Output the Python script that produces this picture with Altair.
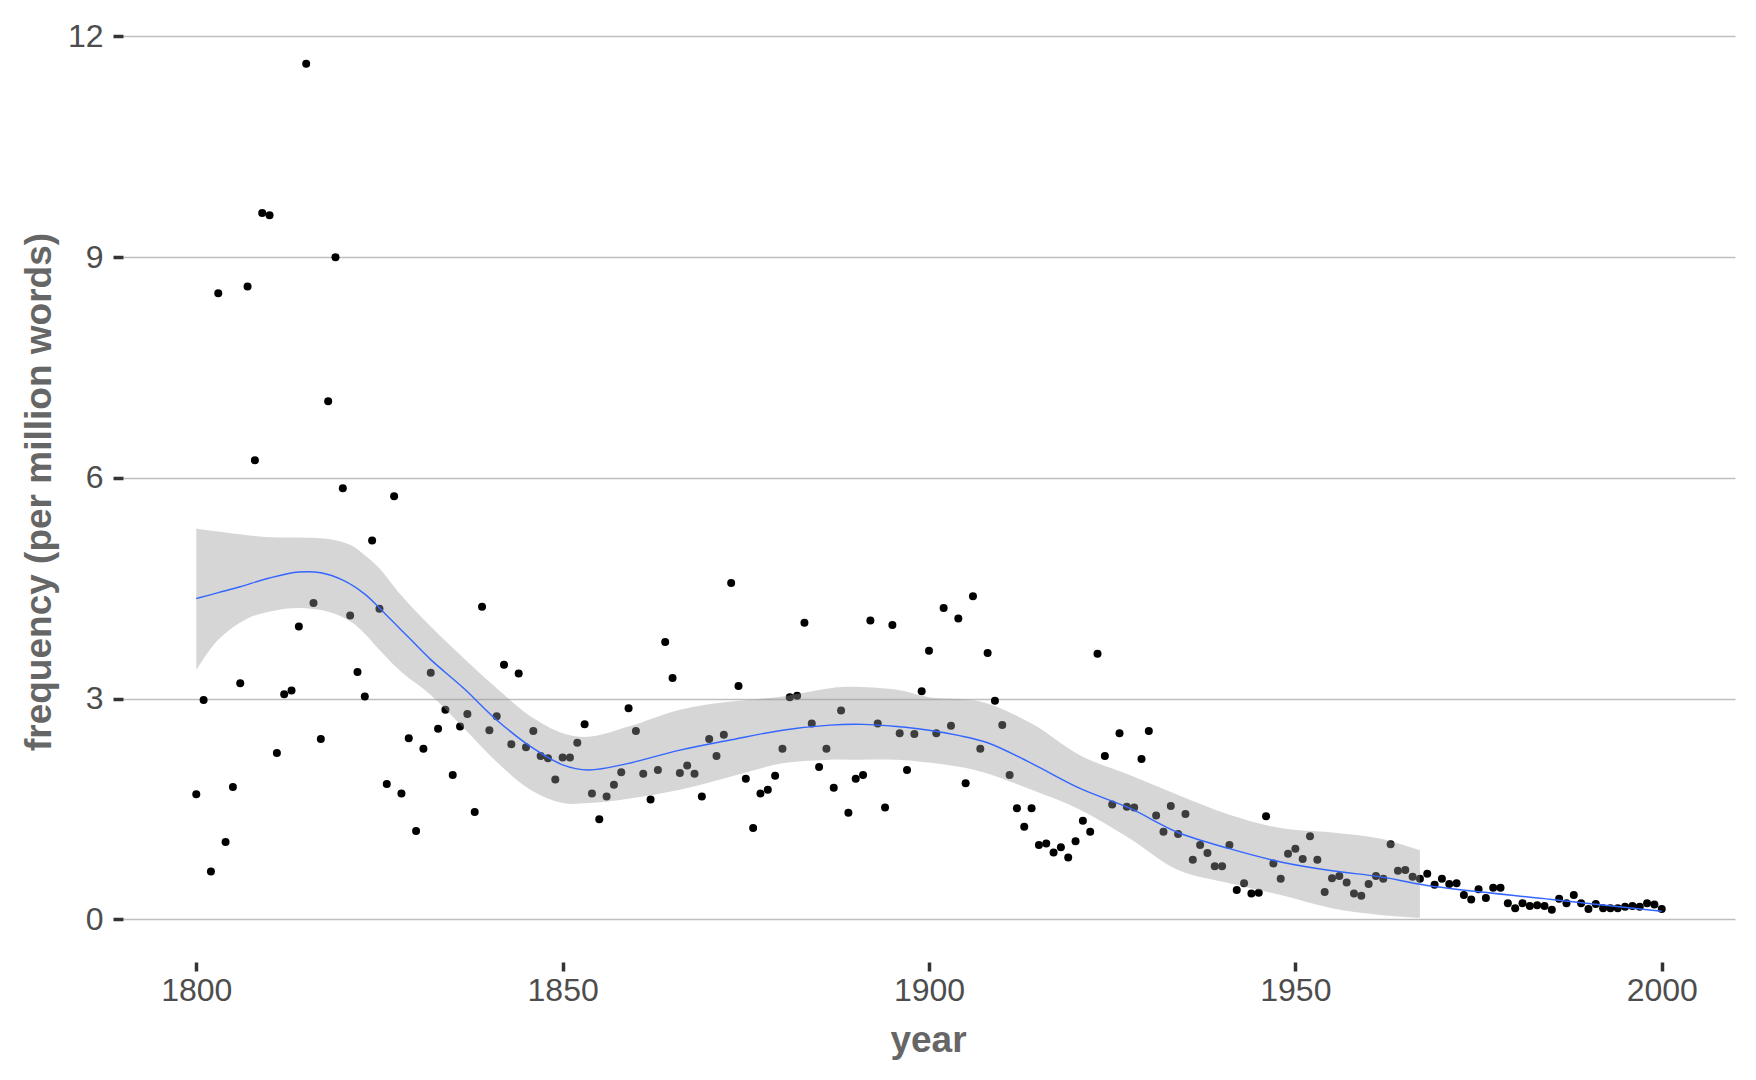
import altair as alt
import pandas as pd

# ---- data ----
years = list(range(1800, 2001))
freq = [
    1.70, 2.98, 0.65, 8.51, 1.05, 1.80, 3.21, 8.60, 6.24, 9.60,   # 1800-1809
    9.57, 2.26, 3.06, 3.11, 3.98, 11.63, 4.30, 2.45, 7.04, 9.00,  # 1810-1819
    5.86, 4.13, 3.36, 3.03, 5.15, 4.22, 1.84, 5.75, 1.71, 2.46,   # 1820-1829
    1.20, 2.32, 3.35, 2.59, 2.85, 1.96, 2.62, 2.79, 1.46, 4.25,   # 1830-1839
    2.57, 2.76, 3.46, 2.38, 3.34, 2.34, 2.56, 2.22, 2.19, 1.90,   # 1840-1849
    2.20, 2.20, 2.40, 2.65, 1.71, 1.36, 1.67, 1.83, 2.00, 2.87,   # 1850-1859
    2.56, 1.98, 1.63, 2.03, 3.77, 3.28, 1.99, 2.09, 1.98, 1.67,   # 1860-1869
    2.45, 2.22, 2.51, 4.57, 3.17, 1.91, 1.24, 1.71, 1.76, 1.95,   # 1870-1879
    2.32, 3.02, 3.04, 4.03, 2.66, 2.07, 2.32, 1.79, 2.84, 1.45,   # 1880-1889
    1.91, 1.96, 4.06, 2.66, 1.52, 4.00, 2.53, 2.03, 2.52, 3.10,   # 1890-1899
    3.65, 2.53, 4.23, 2.63, 4.09, 1.85, 4.39, 2.32, 3.62, 2.97,   # 1900-1909
    2.64, 1.96, 1.51, 1.26, 1.51, 1.01, 1.03, 0.91, 0.98, 0.84,   # 1910-1919
    1.06, 1.34, 1.19, 3.61, 2.22, 1.56, 2.53, 1.53, 1.52, 2.18,   # 1920-1929
    2.56, 1.41, 1.19, 1.54, 1.16, 1.43, 0.81, 1.01, 0.90, 0.72,   # 1930-1939
    0.72, 1.01, 0.40, 0.49, 0.35, 0.36, 1.40, 0.76, 0.55, 0.89,   # 1940-1949
    0.96, 0.82, 1.13, 0.81, 0.37, 0.56, 0.59, 0.50, 0.35, 0.32,   # 1950-1959
    0.48, 0.59, 0.55, 1.02, 0.66, 0.67, 0.58, 0.55, 0.62, 0.47,   # 1960-1969
    0.55, 0.48, 0.49, 0.33, 0.27, 0.41, 0.29, 0.43, 0.43, 0.22,   # 1970-1979
    0.15, 0.22, 0.18, 0.19, 0.18, 0.13, 0.28, 0.22, 0.33, 0.22,   # 1980-1989
    0.14, 0.21, 0.15, 0.15, 0.15, 0.17, 0.18, 0.17, 0.22, 0.20,   # 1990-1999
    0.14,                                                         # 2000
]

# smoothed trend
smooth_years = [1800, 1803, 1806, 1810, 1814, 1817, 1820, 1823, 1826, 1829,
                1832, 1836.5, 1841, 1845.6, 1850, 1853.5, 1859, 1866, 1873,
                1880, 1886.5, 1891, 1895.6, 1900, 1904, 1908, 1914, 1920.6,
                1927.4, 1934, 1941, 1948, 1955, 1961.5, 1968, 1985, 2000]
smooth_fit = [4.36, 4.44, 4.52, 4.64, 4.72, 4.71, 4.61, 4.42, 4.13, 3.83,
              3.53, 3.14, 2.71, 2.35, 2.10, 2.03, 2.12, 2.30, 2.44,
              2.57, 2.64, 2.65, 2.62, 2.57, 2.50, 2.40, 2.12, 1.78,
              1.51, 1.18, 0.96, 0.78, 0.66, 0.58, 0.46, 0.27, 0.11]

# confidence band (read from the grey ribbon, ends where the lower bound leaves the scale)
band_years = [1800, 1803, 1807, 1811, 1814, 1818, 1821, 1823, 1825, 1828,
              1832, 1836.5, 1841, 1845.6, 1850, 1853.5, 1859, 1866, 1873,
              1880, 1886.5, 1889, 1895.6, 1900, 1907, 1914, 1920.6, 1927.4,
              1934, 1941, 1948, 1955, 1961.5, 1967]
band_lo = [3.39, 3.80, 4.09, 4.20, 4.23, 4.18, 4.05, 3.88, 3.66, 3.36,
           3.05, 2.60, 2.14, 1.76, 1.58, 1.58, 1.64, 1.76, 1.94,
           2.12, 2.17, 2.17, 2.17, 2.13, 2.01, 1.76, 1.49, 1.10,
           0.67, 0.49, 0.33, 0.15, 0.06, 0.02]
band_hi = [5.31, 5.27, 5.22, 5.19, 5.19, 5.17, 5.09, 4.95, 4.77, 4.40,
           3.98, 3.55, 3.14, 2.76, 2.53, 2.48, 2.62, 2.85, 2.96,
           3.03, 3.14, 3.16, 3.12, 3.02, 2.96, 2.66, 2.23, 1.96,
           1.69, 1.42, 1.24, 1.18, 1.10, 0.94]

x_ticks = [1800, 1850, 1900, 1950, 2000]
y_ticks = [0, 3, 6, 9, 12]

pts = pd.DataFrame({"year": years, "freq": freq})
smooth = pd.DataFrame({"year": smooth_years, "fit": smooth_fit})
band = pd.DataFrame({"year": band_years, "lo": band_lo, "hi": band_hi})

W, H = 1612, 941
FONT = "Liberation Sans"

xscale = alt.Scale(domain=[1790, 2010], nice=False, zero=False)
yscale = alt.Scale(domain=[-0.58, 12.21], nice=False, zero=False)

xaxis = alt.Axis(
    values=x_ticks, format="d", grid=False, domain=False,
    tickColor="#333333", tickWidth=3.5, tickSize=9,
    labelFont=FONT, labelFontSize=32, labelColor="#4d4d4d", labelPadding=4,
    title="year", titleFont=FONT, titleFontSize=37, titleFontWeight="bold",
    titleColor="#666666", titleX=805, titleY=78, titleBaseline="middle",
    titleAlign="center",
)
yaxis = alt.Axis(
    values=y_ticks, format="d", grid=True, gridColor="#bebebe", gridWidth=1.6,
    domain=False, tickColor="#333333", tickWidth=3.5, tickSize=10,
    labelFont=FONT, labelFontSize=32, labelColor="#4d4d4d", labelPadding=10,
    title="frequency (per million words)", titleFont=FONT, titleFontSize=37,
    titleFontWeight="bold", titleColor="#666666", titleX=-84, titleY=H / 2,
    titleAngle=270, titleBaseline="middle", titleAlign="center",
)

points = alt.Chart(pts).mark_point(
    filled=True, shape="circle", size=64, color="black", opacity=1
).encode(
    x=alt.X("year:Q", scale=xscale, axis=xaxis),
    y=alt.Y("freq:Q", scale=yscale, axis=yaxis),
)

ribbon = alt.Chart(band).mark_area(
    color="#999999", opacity=0.4, interpolate="catmull-rom"
).encode(
    x=alt.X("year:Q", scale=xscale),
    y=alt.Y("lo:Q", scale=yscale),
    y2="hi:Q",
)

line = alt.Chart(smooth).mark_line(
    color="#3366ff", strokeWidth=1.4, interpolate="catmull-rom"
).encode(
    x=alt.X("year:Q", scale=xscale),
    y=alt.Y("fit:Q", scale=yscale),
)

chart = alt.layer(points, ribbon, line).properties(
    width=W, height=H,
    background="white",
    autosize=alt.AutoSizeParams(type="none"),
    padding={"left": 115, "top": 13, "right": 13, "bottom": 100},
).configure_view(strokeWidth=0)

chart.save("out.html", embed_options={"renderer": "svg", "actions": False})
